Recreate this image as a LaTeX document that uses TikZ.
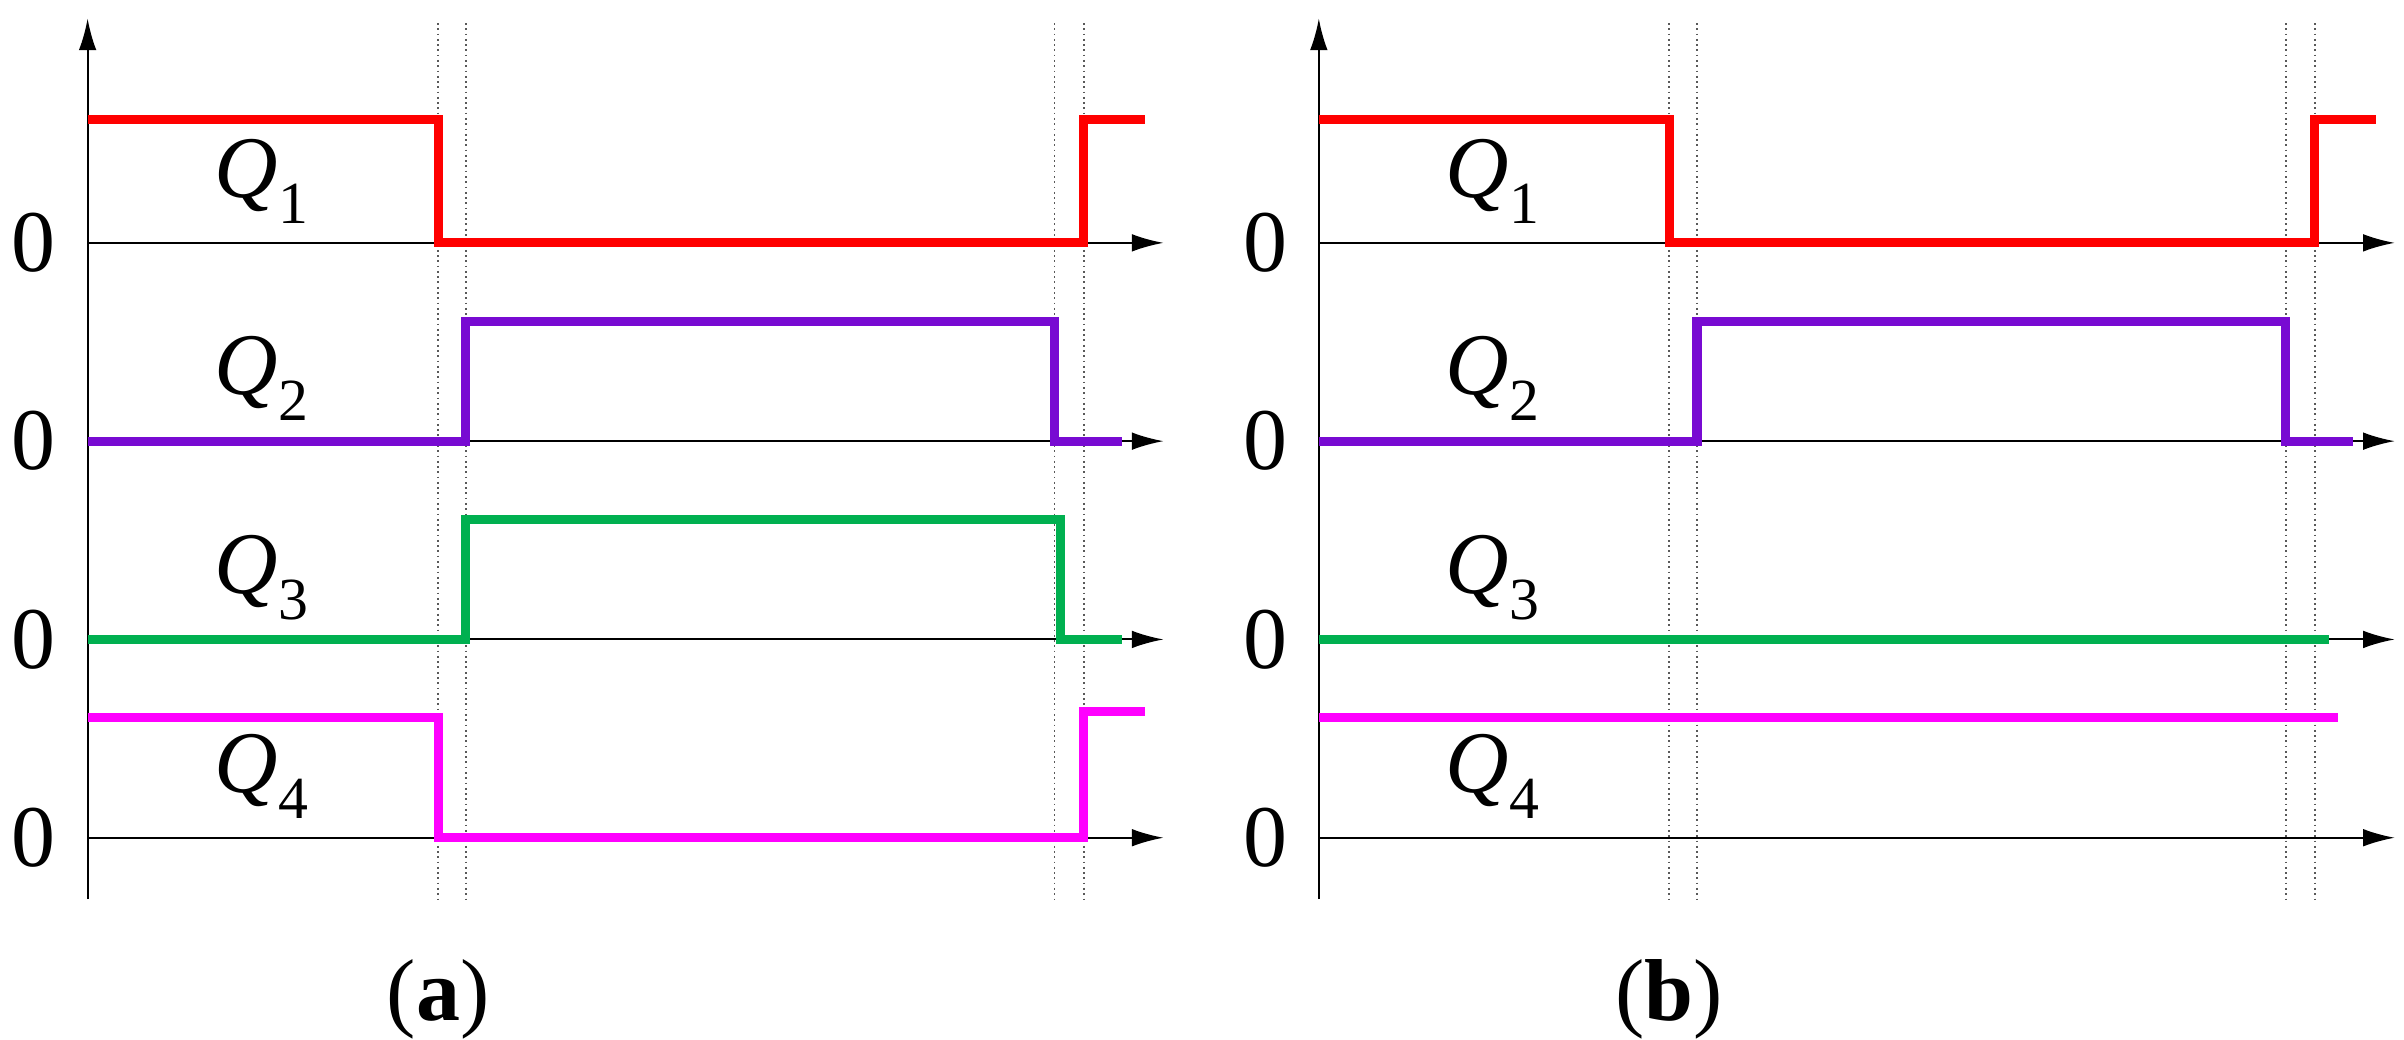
\documentclass[tikz,border=0pt]{standalone}
\usepackage{fontspec}
\setmainfont{Liberation Serif}
\newcommand{\qsig}[1]{\textit{Q}\raisebox{-0.3em}{\fontsize{17}{20}\selectfont #1}}
\tikzset{
  axis/.style={line width=0.6pt, -{Latex[length=9pt,width=5pt]}},
  guide/.style={densely dotted, line width=0.5pt, gray!70!black},
  wave/.style={line width=2.6pt},
  lbl/.style={font=\fontsize{25}{30}\selectfont},
}
\usetikzlibrary{arrows.meta}
\definecolor{qred}{RGB}{255,0,0}
\definecolor{qpurple}{RGB}{120,10,210}
\definecolor{qgreen}{RGB}{0,176,80}
\definecolor{qmagenta}{RGB}{255,0,255}
\begin{document}
\begin{tikzpicture}[x=0.01537cm, y=-0.01537cm]
\useasboundingbox (0,0) rectangle (1564,676);

% Achsen und Hilfslinien
\foreach \ox in {0,801} {
  \draw[axis] (57+\ox,585) -- (57+\ox,12);
  \foreach \yb in {158,287,416,545} {
    \draw[axis] (57+\ox,\yb) -- (757+\ox,\yb);
    \node[lbl] at (22+\ox,\yb) {0};
  }
  \foreach \xg in {285,303,686,705}
    \draw[guide] (\xg+\ox,15) -- (\xg+\ox,585);
  \node[lbl] at (170+\ox,118) {\qsig{1}};
  \node[lbl] at (170+\ox,246) {\qsig{2}};
  \node[lbl] at (170+\ox,376) {\qsig{3}};
  \node[lbl] at (170+\ox,505) {\qsig{4}};
}

% (a)
\draw[wave, qred] (57,78) -- (285,78) -- (285,158) -- (705,158) -- (705,78) -- (745,78);
\draw[wave, qpurple] (57,287) -- (303,287) -- (303,209) -- (686,209) -- (686,287) -- (730,287);
\draw[wave, qgreen] (57,416) -- (303,416) -- (303,338) -- (690,338) -- (690,416) -- (730,416);
\draw[wave, qmagenta] (57,467) -- (285,467) -- (285,545) -- (705,545) -- (705,463) -- (745,463);
\node[lbl] (capa) at (285,650) {(\textbf{a})};

% (b)
\draw[wave, qred] (858,78) -- (1086,78) -- (1086,158) -- (1506,158) -- (1506,78) -- (1546,78);
\draw[wave, qpurple] (858,287) -- (1104,287) -- (1104,209) -- (1487,209) -- (1487,287) -- (1531,287);
\draw[wave, qgreen] (858,416) -- (1515,416);
\draw[wave, qmagenta] (858,467) -- (1521,467);
\node[lbl] (capb) at (1086,650) {(\textbf{b})};
\end{tikzpicture}
\end{document}
